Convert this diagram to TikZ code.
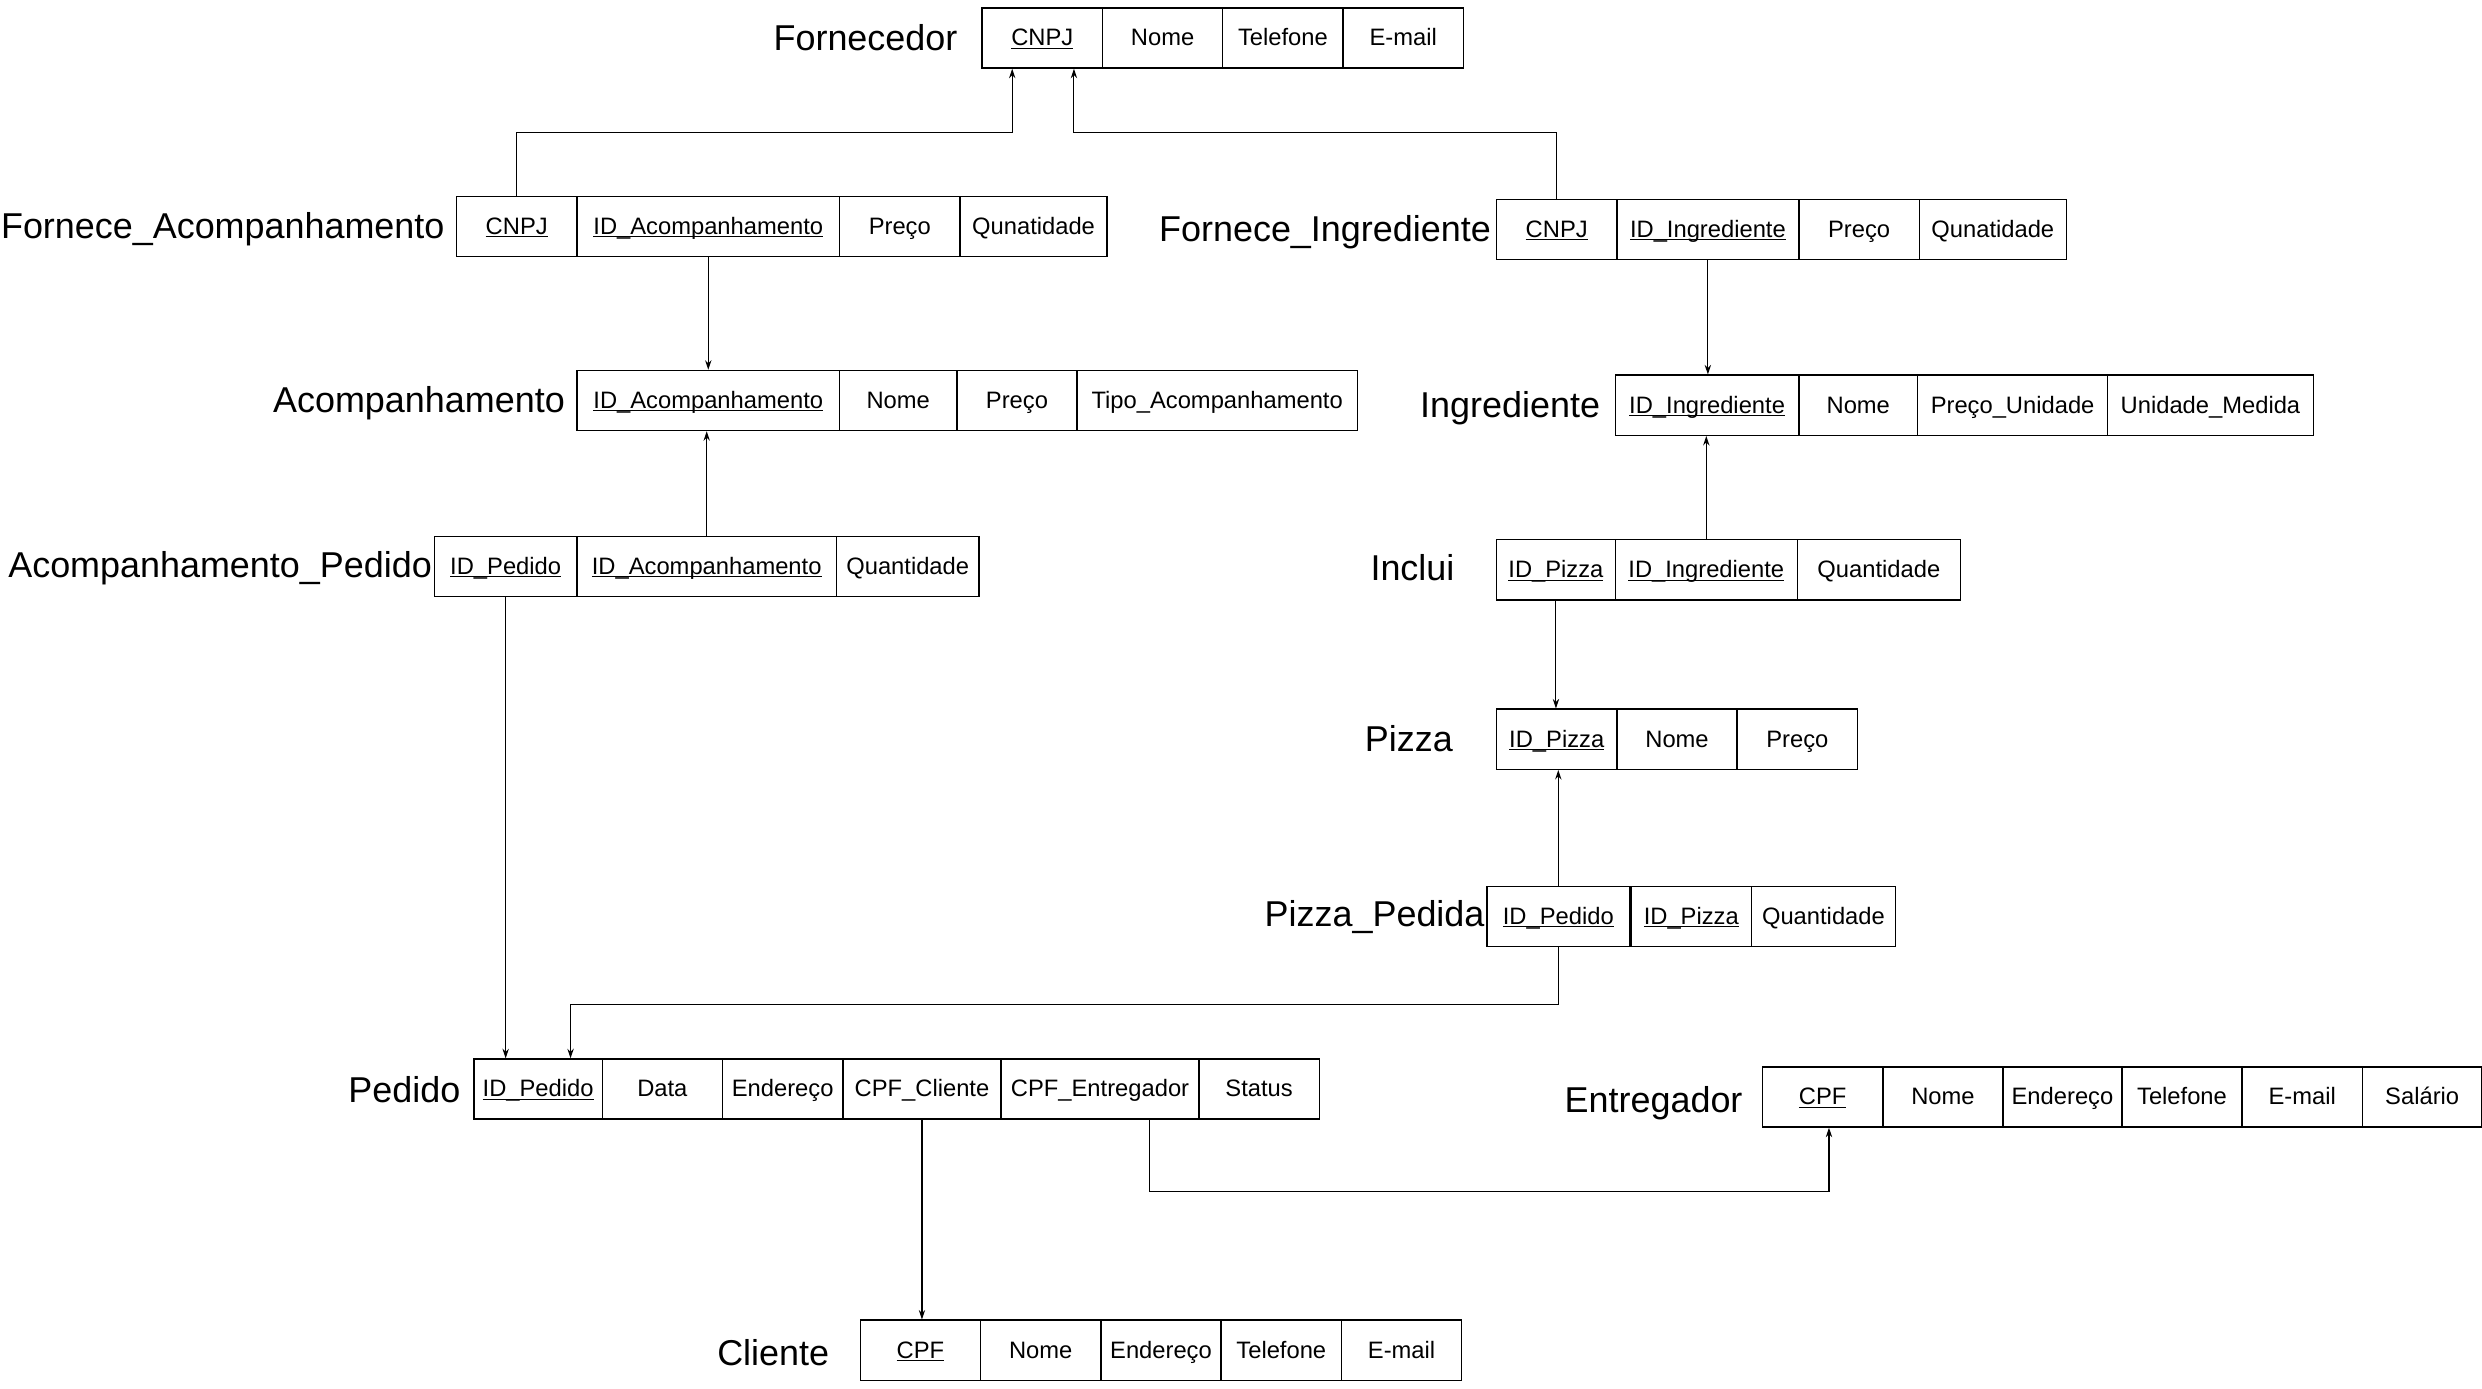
\documentclass[tikz,border=0pt]{standalone}
\usepackage{fontspec}
\setmainfont{Liberation Sans}
\usetikzlibrary{arrows.meta}
\newcommand\pk[1]{\underline{\smash{#1}}}
\begin{document}
\begin{tikzpicture}[x=1pt,y=-1pt,
 cell/.style={draw, line width=0.9pt, minimum height=38pt, inner sep=0pt, anchor=west,
   font=\fontsize{15}{18}\selectfont, text height=1em, text depth=0pt},
 ent/.style={anchor=east, inner sep=0pt, font=\fontsize{22.7}{27}\selectfont,
   text height=0.72em, text depth=0pt, yshift=-4pt},
 fk/.style={draw, line width=0.7pt, -{Stealth[length=6pt,width=4pt]}}]
\useasboundingbox (0,0) rectangle (1568,877);

% Fornecedor
\node[ent] (lfo) at (605,24) {Fornecedor};
\node[cell, minimum width=76pt] (fo1) at (620,24) {\pk{CNPJ}};
\node[cell, minimum width=76pt] (fo2) at (696,24) {Nome};
\node[cell, minimum width=76pt] (fo3) at (772,24) {Telefone};
\node[cell, minimum width=76pt] (fo4) at (848,24) {E-mail};

% Fornece_Acompanhamento
\node[ent] (lfa) at (281,143) {Fornece\_Acompanhamento};
\node[cell, minimum width=76pt] (fa1) at (288,143) {\pk{CNPJ}};
\node[cell, minimum width=166pt] (fa2) at (364,143) {\pk{ID\_Acompanhamento}};
\node[cell, minimum width=76pt] (fa3) at (530,143) {Preço};
\node[cell, minimum width=93pt] (fa4) at (606,143) {Qunatidade};

% Fornece_Ingrediente
\node[ent] (lfi) at (942,145) {Fornece\_Ingrediente};
\node[cell, minimum width=76pt] (fi1) at (945,145) {\pk{CNPJ}};
\node[cell, minimum width=115pt] (fi2) at (1021,145) {\pk{ID\_Ingrediente}};
\node[cell, minimum width=76pt] (fi3) at (1136,145) {Preço};
\node[cell, minimum width=93pt] (fi4) at (1212,145) {Qunatidade};

% Acompanhamento
\node[ent] (lac) at (357,253) {Acompanhamento};
\node[cell, minimum width=166pt] (ac1) at (364,253) {\pk{ID\_Acompanhamento}};
\node[cell, minimum width=74pt] (ac2) at (530,253) {Nome};
\node[cell, minimum width=76pt] (ac3) at (604,253) {Preço};
\node[cell, minimum width=177pt] (ac4) at (680,253) {Tipo\_Acompanhamento};

% Ingrediente
\node[ent] (lin) at (1011,256) {Ingrediente};
\node[cell, minimum width=116pt] (in1) at (1020,256) {\pk{ID\_Ingrediente}};
\node[cell, minimum width=75pt] (in2) at (1136,256) {Nome};
\node[cell, minimum width=120pt] (in3) at (1211,256) {Preço\_Unidade};
\node[cell, minimum width=130pt] (in4) at (1331,256) {Unidade\_Medida};

% Acompanhamento_Pedido
\node[ent] (lap) at (273,357) {Acompanhamento\_Pedido};
\node[cell, minimum width=90pt] (ap1) at (274,358) {\pk{ID\_Pedido}};
\node[cell, minimum width=164pt] (ap2) at (364,358) {\pk{ID\_Acompanhamento}};
\node[cell, minimum width=90pt] (ap3) at (528,358) {Quantidade};

% Inclui
\node[ent] (lic) at (919,359) {Inclui};
\node[cell, minimum width=75pt] (ic1) at (945,360) {\pk{ID\_Pizza}};
\node[cell, minimum width=115pt] (ic2) at (1020,360) {\pk{ID\_Ingrediente}};
\node[cell, minimum width=103pt] (ic3) at (1135,360) {Quantidade};

% Pizza
\node[ent] (lpz) at (918,467) {Pizza};
\node[cell, minimum width=76pt] (pz1) at (945,467) {\pk{ID\_Pizza}};
\node[cell, minimum width=76pt] (pz2) at (1021,467) {Nome};
\node[cell, minimum width=76pt] (pz3) at (1097,467) {Preço};

% Pizza_Pedida
\node[ent] (lpp) at (938,578) {Pizza\_Pedida};
\node[cell, minimum width=90pt] (pp1) at (939,579) {\pk{ID\_Pedido}};
\node[cell, minimum width=76pt] (pp2) at (1030,579) {\pk{ID\_Pizza}};
\node[cell, minimum width=91pt] (pp3) at (1106,579) {Quantidade};

% Pedido
\node[ent] (lpe) at (291,689) {Pedido};
\node[cell, minimum width=81pt] (pe1) at (299,688) {\pk{ID\_Pedido}};
\node[cell, minimum width=76pt] (pe2) at (380,688) {Data};
\node[cell, minimum width=76pt] (pe3) at (456,688) {Endereço};
\node[cell, minimum width=100pt] (pe4) at (532,688) {CPF\_Cliente};
\node[cell, minimum width=125pt] (pe5) at (632,688) {CPF\_Entregador};
\node[cell, minimum width=76pt] (pe6) at (757,688) {Status};

% Entregador
\node[ent] (len) at (1101,695) {Entregador};
\node[cell, minimum width=76pt] (en1) at (1113,693) {\pk{CPF}};
\node[cell, minimum width=76pt] (en2) at (1189,693) {Nome};
\node[cell, minimum width=75pt] (en3) at (1265,693) {Endereço};
\node[cell, minimum width=76pt] (en4) at (1340,693) {Telefone};
\node[cell, minimum width=76pt] (en5) at (1416,693) {E-mail};
\node[cell, minimum width=75.5pt] (en6) at (1492,693) {Salário};

% Cliente
\node[ent] (lcl) at (524,855) {Cliente};
\node[cell, minimum width=76pt] (cl1) at (543,853) {\pk{CPF}};
\node[cell, minimum width=76pt] (cl2) at (619,853) {Nome};
\node[cell, minimum width=76pt] (cl3) at (695,853) {Endereço};
\node[cell, minimum width=76pt] (cl4) at (771,853) {Telefone};
\node[cell, minimum width=76pt] (cl5) at (847,853) {E-mail};

% connectors
\draw[fk] (fa1.north) -- ++(0,-40) -| ([xshift=-19pt]fo1.south);
\draw[fk] (fi1.north) -- ++(0,-42) -| ([xshift=20pt]fo1.south);
\draw[fk] (fa2.south) -- (fa2.south |- ac1.north);
\draw[fk] (ap2.north) -- (ap2.north |- ac1.south);
\draw[fk] (fi2.south) -- (fi2.south |- in1.north);
\draw[fk] (ic2.north) -- (ic2.north |- in1.south);
\draw[fk] (ic1.south) -- (ic1.south |- pz1.north);
\draw[fk] (pp1.north) -- (pp1.north |- pz1.south);
\draw[fk] (pp1.south) -- ++(0,36) -| ([xshift=20.5pt]pe1.north);
\draw[fk] (ap1.south) -- (ap1.south |- pe1.north);
\draw[fk] (pe4.south) -- (pe4.south |- cl1.north);
\draw[fk] ([xshift=31.5pt]pe5.south) -- ++(0,45) -| ([xshift=4pt]en1.south);
\end{tikzpicture}
\end{document}
